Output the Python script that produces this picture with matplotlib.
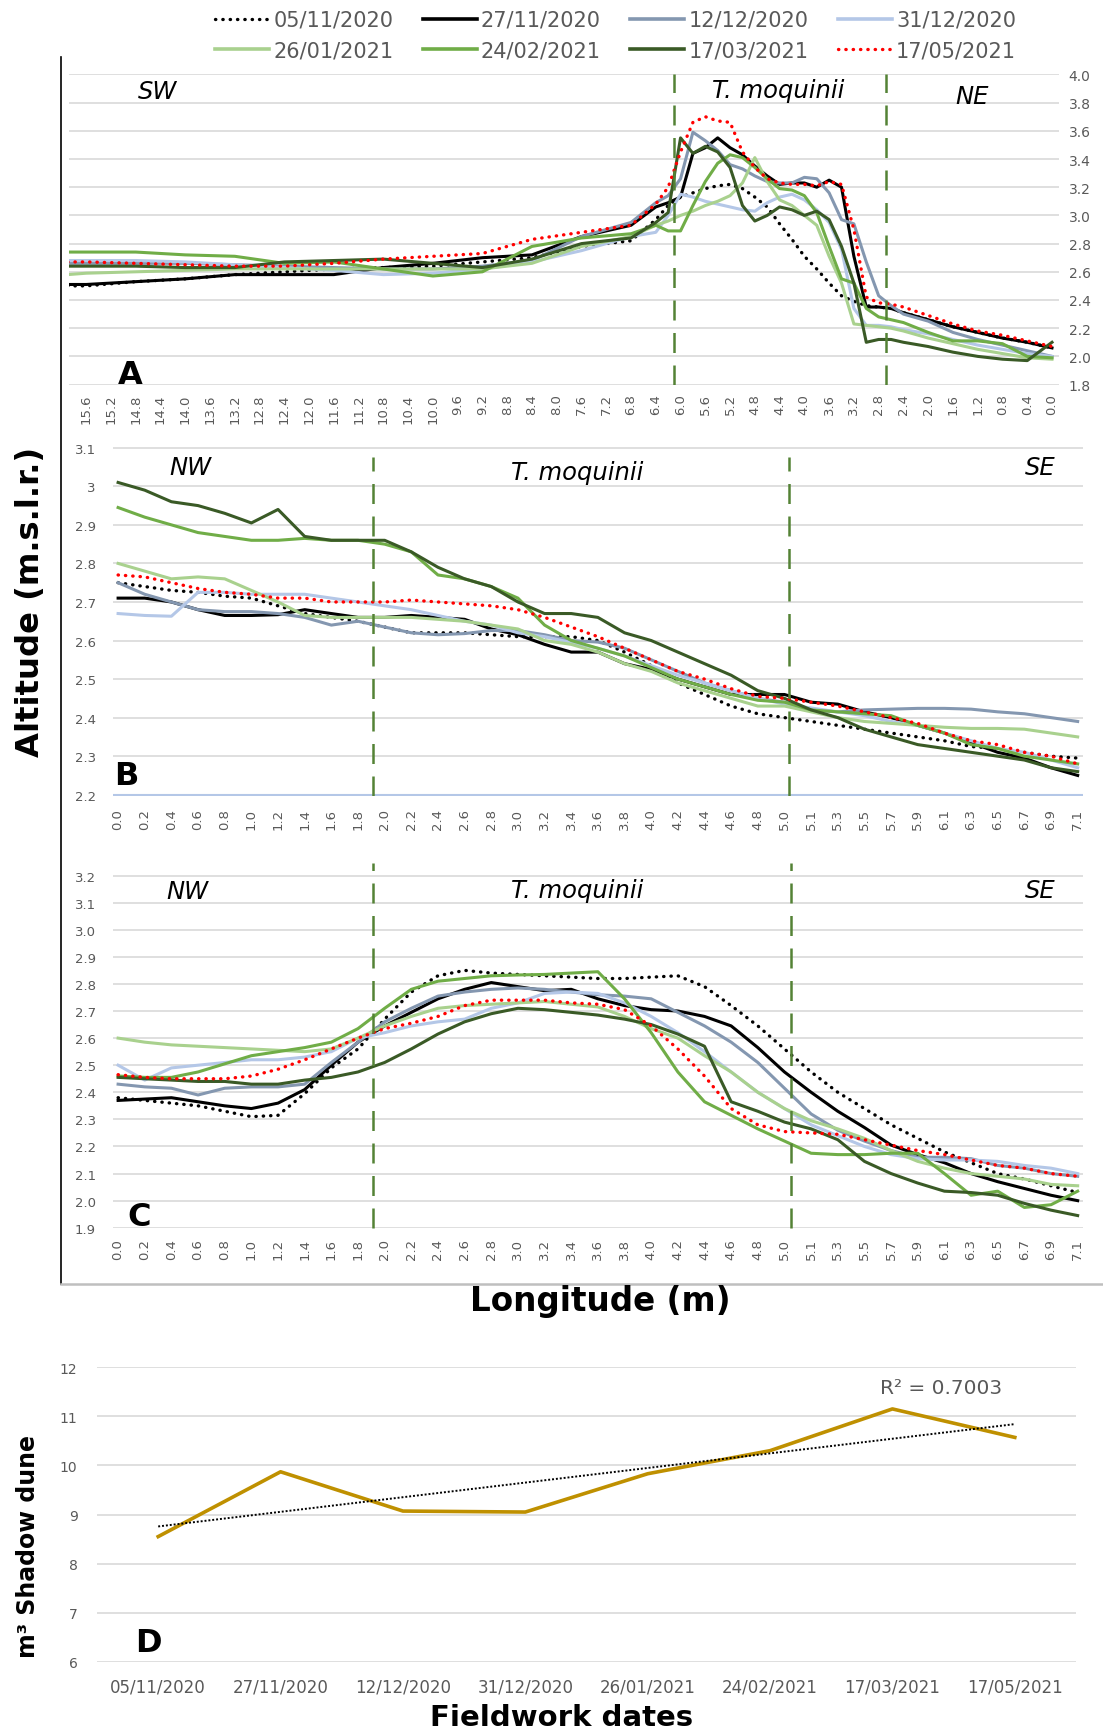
import numpy as np
import matplotlib.pyplot as plt
from matplotlib.lines import Line2D

# fechas de campo (leyenda)
dates = ['05/11/2020', '27/11/2020', '12/12/2020', '31/12/2020',
         '26/01/2021', '24/02/2021', '17/03/2021', '17/05/2021']

# Perfil A (SW -> NE), distancia en m
xA = [15.9, 15.6, 14.8, 14.0, 13.2, 12.4, 11.6, 10.8, 10.0, 9.2, 8.4, 7.6, 6.8,
      6.4, 6.2, 6.0, 5.8, 5.6, 5.4, 5.2, 5.0, 4.8, 4.6, 4.4, 4.2, 4.0, 3.8, 3.6,
      3.4, 3.2, 3.0, 2.8, 2.6, 2.4, 2.0, 1.6, 1.2, 0.8, 0.4, 0.0]
a_0511 = [2.50, 2.50, 2.53, 2.55, 2.58, 2.60, 2.62, 2.63, 2.64, 2.67, 2.70, 2.78, 2.82,
          2.97, 3.07, 3.13, 3.16, 3.19, 3.21, 3.22, 3.19, 3.13, 3.06, 2.94, 2.83, 2.71,
          2.62, 2.52, 2.43, 2.39, 2.36, 2.35, 2.34, 2.31, 2.26, 2.21, 2.17, 2.13, 2.10, 2.06]
a_2711 = [2.51, 2.51, 2.53, 2.55, 2.58, 2.58, 2.58, 2.63, 2.66, 2.70, 2.72, 2.85, 2.93,
          3.06, 3.09, 3.13, 3.44, 3.48, 3.55, 3.48, 3.43, 3.35, 3.28, 3.22, 3.23, 3.23,
          3.20, 3.25, 3.20, 2.71, 2.35, 2.35, 2.34, 2.31, 2.26, 2.21, 2.17, 2.13, 2.10, 2.06]
a_1212 = [2.66, 2.66, 2.66, 2.66, 2.65, 2.64, 2.63, 2.62, 2.62, 2.64, 2.68, 2.85, 2.95,
          3.09, 3.14, 3.26, 3.59, 3.53, 3.46, 3.36, 3.33, 3.28, 3.24, 3.23, 3.23, 3.27,
          3.26, 3.16, 2.97, 2.94, 2.67, 2.43, 2.36, 2.30, 2.25, 2.17, 2.12, 2.08, 2.04, 2.00]
a_3112 = [2.68, 2.68, 2.68, 2.67, 2.65, 2.63, 2.61, 2.58, 2.59, 2.62, 2.67, 2.75, 2.85,
          2.88, 3.00, 3.15, 3.13, 3.10, 3.08, 3.06, 3.04, 3.03, 3.09, 3.13, 3.15, 3.11,
          3.04, 2.95, 2.76, 2.34, 2.22, 2.22, 2.21, 2.19, 2.16, 2.12, 2.08, 2.05, 2.02, 2.00]
a_2601 = [2.58, 2.59, 2.60, 2.61, 2.62, 2.62, 2.62, 2.62, 2.62, 2.62, 2.66, 2.78, 2.85,
          2.93, 2.96, 3.00, 3.03, 3.07, 3.10, 3.14, 3.23, 3.41, 3.24, 3.11, 3.07, 3.00,
          2.93, 2.71, 2.52, 2.23, 2.22, 2.21, 2.20, 2.18, 2.13, 2.09, 2.05, 2.02, 1.99, 1.98]
a_2402 = [2.74, 2.74, 2.74, 2.72, 2.71, 2.66, 2.67, 2.62, 2.57, 2.60, 2.78, 2.84, 2.87,
          2.93, 2.89, 2.89, 3.07, 3.24, 3.37, 3.43, 3.41, 3.34, 3.26, 3.19, 3.18, 3.14,
          3.02, 2.78, 2.55, 2.52, 2.34, 2.28, 2.26, 2.24, 2.17, 2.11, 2.11, 2.09, 2.00, 1.99]
a_1703 = [2.64, 2.64, 2.64, 2.63, 2.63, 2.67, 2.68, 2.69, 2.66, 2.63, 2.69, 2.80, 2.84,
          2.95, 3.02, 3.55, 3.44, 3.49, 3.45, 3.34, 3.07, 2.96, 3.00, 3.06, 3.04, 3.00,
          3.03, 2.97, 2.78, 2.52, 2.10, 2.12, 2.12, 2.10, 2.07, 2.03, 2.00, 1.98, 1.97, 2.10]
a_1705 = [2.67, 2.67, 2.66, 2.65, 2.64, 2.64, 2.66, 2.69, 2.71, 2.73, 2.83, 2.88, 2.93,
          3.08, 3.20, 3.45, 3.66, 3.70, 3.67, 3.66, 3.45, 3.34, 3.26, 3.23, 3.22, 3.22,
          3.21, 3.24, 3.22, 2.90, 2.42, 2.38, 2.37, 2.35, 2.29, 2.23, 2.18, 2.15, 2.11, 2.07]
zonesA = [6.1, 2.68]

# Perfiles B y C (NW -> SE), eje de categorias
catsBC = ['0.0', '0.2', '0.4', '0.6', '0.8', '1.0', '1.2', '1.4', '1.6', '1.8', '2.0',
          '2.2', '2.4', '2.6', '2.8', '3.0', '3.2', '3.4', '3.6', '3.8', '4.0', '4.2',
          '4.4', '4.6', '4.8', '5.0', '5.1', '5.3', '5.5', '5.7', '5.9', '6.1', '6.3',
          '6.5', '6.7', '6.9', '7.1']

b_0511 = [2.75, 2.74, 2.73, 2.725, 2.715, 2.71, 2.69, 2.67, 2.66, 2.65, 2.635, 2.62, 2.62,
          2.62, 2.615, 2.61, 2.61, 2.61, 2.60, 2.57, 2.535, 2.49, 2.46, 2.43, 2.41, 2.40,
          2.39, 2.38, 2.37, 2.36, 2.35, 2.34, 2.325, 2.32, 2.31, 2.30, 2.295]
b_2711 = [2.71, 2.71, 2.70, 2.68, 2.665, 2.665, 2.667, 2.68, 2.67, 2.66, 2.66, 2.665, 2.66,
          2.655, 2.63, 2.615, 2.59, 2.57, 2.57, 2.54, 2.525, 2.50, 2.48, 2.46, 2.46, 2.46,
          2.44, 2.435, 2.415, 2.40, 2.38, 2.36, 2.335, 2.31, 2.295, 2.27, 2.25]
b_1212 = [2.75, 2.72, 2.70, 2.68, 2.675, 2.675, 2.67, 2.66, 2.64, 2.65, 2.635, 2.62, 2.615,
          2.618, 2.626, 2.626, 2.615, 2.60, 2.596, 2.58, 2.55, 2.52, 2.49, 2.47, 2.45, 2.44,
          2.42, 2.415, 2.42, 2.422, 2.424, 2.424, 2.422, 2.415, 2.41, 2.40, 2.39]
b_3112 = [2.67, 2.665, 2.663, 2.725, 2.725, 2.72, 2.72, 2.72, 2.71, 2.70, 2.69, 2.68, 2.665,
          2.65, 2.64, 2.62, 2.61, 2.595, 2.58, 2.56, 2.535, 2.51, 2.49, 2.47, 2.45, 2.435,
          2.425, 2.415, 2.405, 2.39, 2.38, 2.36, 2.34, 2.32, 2.31, 2.29, 2.27]
b_2601 = [2.80, 2.78, 2.76, 2.765, 2.76, 2.73, 2.70, 2.665, 2.66, 2.66, 2.66, 2.66, 2.655,
          2.65, 2.64, 2.63, 2.60, 2.59, 2.57, 2.54, 2.52, 2.49, 2.47, 2.45, 2.43, 2.43,
          2.415, 2.40, 2.39, 2.385, 2.38, 2.375, 2.372, 2.372, 2.37, 2.36, 2.35]
b_2402 = [2.945, 2.92, 2.90, 2.88, 2.87, 2.86, 2.86, 2.865, 2.86, 2.86, 2.85, 2.83, 2.77,
          2.76, 2.74, 2.71, 2.64, 2.60, 2.58, 2.56, 2.53, 2.50, 2.48, 2.46, 2.445, 2.44,
          2.42, 2.415, 2.41, 2.405, 2.38, 2.36, 2.33, 2.32, 2.30, 2.29, 2.28]
b_1703 = [3.01, 2.99, 2.96, 2.95, 2.93, 2.905, 2.94, 2.87, 2.86, 2.86, 2.86, 2.83, 2.79,
          2.76, 2.74, 2.70, 2.67, 2.67, 2.66, 2.62, 2.60, 2.57, 2.54, 2.51, 2.47, 2.45,
          2.42, 2.40, 2.37, 2.35, 2.33, 2.32, 2.31, 2.30, 2.29, 2.27, 2.26]
b_1705 = [2.77, 2.765, 2.75, 2.735, 2.725, 2.72, 2.71, 2.71, 2.70, 2.70, 2.70, 2.705, 2.70,
          2.695, 2.69, 2.68, 2.66, 2.635, 2.61, 2.58, 2.55, 2.52, 2.50, 2.475, 2.455, 2.45,
          2.44, 2.43, 2.415, 2.40, 2.385, 2.36, 2.34, 2.33, 2.31, 2.30, 2.28]
zonesB = [9.55, 25.17]

c_0511 = [2.38, 2.37, 2.36, 2.35, 2.33, 2.31, 2.315, 2.395, 2.49, 2.56, 2.67, 2.77, 2.83,
          2.85, 2.84, 2.835, 2.83, 2.825, 2.82, 2.82, 2.825, 2.83, 2.79, 2.72, 2.645, 2.56,
          2.475, 2.40, 2.34, 2.28, 2.23, 2.18, 2.14, 2.10, 2.08, 2.055, 2.03]
c_2711 = [2.37, 2.375, 2.38, 2.365, 2.35, 2.34, 2.36, 2.41, 2.50, 2.585, 2.645, 2.695, 2.745,
          2.78, 2.805, 2.79, 2.775, 2.78, 2.745, 2.72, 2.705, 2.70, 2.68, 2.645, 2.565, 2.475,
          2.40, 2.33, 2.27, 2.205, 2.17, 2.14, 2.10, 2.07, 2.045, 2.02, 2.00]
c_1212 = [2.43, 2.42, 2.415, 2.39, 2.415, 2.42, 2.42, 2.43, 2.51, 2.585, 2.66, 2.71, 2.755,
          2.77, 2.78, 2.785, 2.78, 2.77, 2.76, 2.755, 2.745, 2.695, 2.645, 2.585, 2.51, 2.415,
          2.32, 2.26, 2.22, 2.185, 2.16, 2.16, 2.155, 2.13, 2.12, 2.10, 2.09]
c_3112 = [2.50, 2.445, 2.49, 2.50, 2.51, 2.52, 2.52, 2.53, 2.55, 2.60, 2.62, 2.645, 2.66,
          2.67, 2.71, 2.73, 2.765, 2.77, 2.765, 2.73, 2.68, 2.62, 2.55, 2.475, 2.40, 2.34,
          2.28, 2.24, 2.20, 2.17, 2.155, 2.15, 2.15, 2.145, 2.13, 2.12, 2.10]
c_2601 = [2.60, 2.585, 2.575, 2.57, 2.565, 2.56, 2.555, 2.55, 2.56, 2.60, 2.645, 2.68, 2.71,
          2.72, 2.725, 2.73, 2.735, 2.725, 2.715, 2.68, 2.635, 2.60, 2.535, 2.475, 2.40, 2.34,
          2.295, 2.265, 2.23, 2.185, 2.145, 2.12, 2.10, 2.09, 2.08, 2.06, 2.055]
c_2402 = [2.46, 2.455, 2.455, 2.475, 2.505, 2.535, 2.55, 2.565, 2.585, 2.635, 2.71, 2.78, 2.81,
          2.82, 2.83, 2.833, 2.835, 2.84, 2.845, 2.745, 2.62, 2.475, 2.365, 2.315, 2.265, 2.22,
          2.175, 2.17, 2.17, 2.175, 2.175, 2.10, 2.02, 2.035, 1.975, 1.985, 2.035]
c_1703 = [2.455, 2.45, 2.445, 2.44, 2.44, 2.43, 2.43, 2.445, 2.455, 2.475, 2.51, 2.56, 2.615,
          2.66, 2.69, 2.71, 2.705, 2.695, 2.685, 2.67, 2.65, 2.615, 2.57, 2.365, 2.33, 2.29,
          2.265, 2.225, 2.145, 2.10, 2.065, 2.035, 2.03, 2.02, 1.99, 1.965, 1.945]
c_1705 = [2.465, 2.455, 2.45, 2.45, 2.45, 2.46, 2.485, 2.52, 2.56, 2.60, 2.635, 2.655, 2.68,
          2.72, 2.74, 2.74, 2.74, 2.73, 2.725, 2.705, 2.645, 2.56, 2.46, 2.34, 2.28, 2.255,
          2.25, 2.245, 2.225, 2.205, 2.185, 2.17, 2.15, 2.13, 2.12, 2.10, 2.09]
zonesC = [9.56, 25.26]

# Panel D: volumen de la duna de sombra
vol = [8.55, 9.87, 9.07, 9.05, 9.83, 10.30, 11.15, 10.57]

colors = ['black', 'black', '#8497B0', '#B4C7E7', '#A9D18E', '#70AD47', '#3A5A26', '#FF0000']
dotted = [True, False, False, False, False, False, False, True]
gray = '#595959'
grid_c = '#D9D9D9'
zone_c = '#548235'

W, H = 1103, 1733
fig = plt.figure(figsize=(W / 100, H / 100), dpi=100)


def box(l, t, r, b):
    return [l / W, 1 - b / H, (r - l) / W, (b - t) / H]


def fxy(x, y):
    return x / W, 1 - y / H


def draw_lines(ax, x, series):
    for ys, c, d in zip(series, colors, dotted):
        if d:
            ax.plot(x, ys, color=c, lw=2.4, ls=(0, (0.1, 2.1)), dash_capstyle='round')
        else:
            ax.plot(x, ys, color=c, lw=2.2, solid_joinstyle='round')


def style(ax):
    for s in ax.spines.values():
        s.set_visible(False)
    ax.tick_params(length=0, colors=gray)
    ax.grid(axis='y', color=grid_c, lw=1.2)
    ax.set_axisbelow(True)


# ---- A
axA = fig.add_axes(box(68.5, 75, 1059, 386))
style(axA)
draw_lines(axA, xA, [a_0511, a_2711, a_1212, a_3112, a_2601, a_2402, a_1703, a_1705])
axA.set_xlim(15.886, -0.113)
axA.set_ylim(1.797, 4.003)
axA.set_yticks(np.round(np.arange(1.8, 4.01, 0.2), 1))
axA.set_yticklabels([f"{v:.1f}" for v in np.arange(1.8, 4.01, 0.2)], fontsize=10)
axA.yaxis.tick_right()
axA.tick_params(axis='y', pad=7)
tA = np.round(np.arange(0, 15.61, 0.4), 1)
axA.set_xticks(tA)
axA.set_xticklabels([f"{v:.1f}" for v in tA], rotation=90, fontsize=9.5)
axA.tick_params(axis='x', pad=6)
for z in zonesA:
    axA.axvline(z, color=zone_c, lw=1.8, ls=(0, (8, 5)))

# ---- B
axB = fig.add_axes(box(112.5, 448, 1083, 796.5))
style(axB)
draw_lines(axB, range(len(catsBC)), [b_0511, b_2711, b_1212, b_3112, b_2601, b_2402, b_1703, b_1705])
axB.set_xlim(-0.21, 36.2)
axB.set_ylim(2.198, 3.102)
yB = np.round(np.arange(2.2, 3.11, 0.1), 1)
axB.set_yticks(yB)
axB.set_yticklabels([f"{v:g}" for v in yB], fontsize=9.5)
axB.tick_params(axis='y', pad=12)
axB.set_xticks(range(len(catsBC)))
axB.set_xticklabels(catsBC, rotation=90, fontsize=9.5)
axB.tick_params(axis='x', pad=9)
axB.axhline(2.2, color='#B4C7E7', lw=1.5)
for z in zonesB:
    axB.axvline(z, color=zone_c, lw=1.8, ls=(0, (8, 5)), ymax=0.97)

# ---- C
axC = fig.add_axes(box(112.5, 876, 1083, 1229.3))
style(axC)
draw_lines(axC, range(len(catsBC)), [c_0511, c_2711, c_1212, c_3112, c_2601, c_2402, c_1703, c_1705])
axC.set_xlim(-0.21, 36.2)
axC.set_ylim(1.898, 3.202)
yC = np.round(np.arange(1.9, 3.21, 0.1), 1)
axC.set_yticks(yC)
axC.set_yticklabels([f"{v:.1f}" for v in yC], fontsize=9.5)
axC.tick_params(axis='y', pad=12)
axC.set_xticks(range(len(catsBC)))
axC.set_xticklabels(catsBC, rotation=90, fontsize=9.5)
axC.tick_params(axis='x', pad=7)
for z in zonesC:
    axC.axvline(z, color=zone_c, lw=1.8, ls=(0, (8, 5)), ymax=1.035, clip_on=False)

# ---- D
axD = fig.add_axes(box(97, 1367.7, 1076, 1663.3))
style(axD)
xi = np.arange(len(vol))
axD.plot(xi, vol, color='#BF9000', lw=2.6)
p = np.polyfit(xi, vol, 1)
axD.plot(xi, np.polyval(p, xi), color='black', lw=1.4, ls=(0, (1, 1)))
axD.set_xlim(-0.5, 7.5)
axD.set_ylim(5.99, 12.01)
axD.set_yticks(range(6, 13))
axD.set_yticklabels([str(v) for v in range(6, 13)], fontsize=10)
axD.tick_params(axis='y', pad=14)
axD.set_xticks(xi)
axD.set_xticklabels(dates, fontsize=12)
axD.tick_params(axis='x', pad=11)
axD.text(6.4, 11.58, 'R² = 0.7003', color=gray, fontsize=14.5, ha='center', va='center')

# letras de panel y zonas
for lab, (x, y) in zip('ABCD', [(130, 375), (126, 777), (139, 1217), (148, 1644)]):
    fig.text(*fxy(x, y), lab, fontsize=23, fontweight='bold', ha='center', va='center')

zone_txt = [('SW', 158, 92), ('T. moquinii', 778, 91), ('NE', 972, 97),
            ('NW', 190, 468), ('T. moquinii', 577, 473), ('SE', 1040, 468),
            ('NW', 187, 892), ('T. moquinii', 577, 891), ('SE', 1040, 891)]
for t, x, y in zone_txt:
    fig.text(*fxy(x, y), t, fontsize=17.5, style='italic', ha='center', va='center')

# marco exterior
fig.add_artist(Line2D([61 / W, 61 / W], [1 - 58 / H, 1 - 1285 / H], color='black', lw=1.2))
fig.add_artist(Line2D([61 / W, 1.0], [1 - 1285 / H, 1 - 1285 / H], color='#BFBFBF', lw=1.8))

# titulos de ejes
fig.text(*fxy(31, 602), 'Altitude (m.s.l.r.)', rotation=90, fontsize=23.2,
         fontweight='bold', ha='center', va='center')
fig.text(*fxy(600, 1302), 'Longitude (m)', fontsize=23.5, fontweight='bold', ha='center', va='center')
fig.text(*fxy(28, 1547), 'm³ Shadow dune', rotation=90, fontsize=17,
         fontweight='bold', ha='center', va='center')
fig.text(*fxy(562, 1718), 'Fieldwork dates', fontsize=21, fontweight='bold', ha='center', va='center')

# leyenda (filas de 4)
handles = []
for c, d in zip(colors, dotted):
    if d:
        handles.append(Line2D([], [], color=c, lw=2.4, ls=(0, (0.1, 2.1)), dash_capstyle='round'))
    else:
        handles.append(Line2D([], [], color=c, lw=2.6))
order = [0, 4, 1, 5, 2, 6, 3, 7]
leg = fig.legend([handles[i] for i in order], [dates[i] for i in order], ncol=4,
                 loc='upper left', bbox_to_anchor=fxy(215, 11), frameon=False,
                 fontsize=15, handlelength=2.6, handletextpad=0.2,
                 columnspacing=1.4, labelspacing=0.5, borderpad=0, borderaxespad=0)
for t in leg.get_texts():
    t.set_color(gray)

fig.savefig('out.png', dpi=100)
